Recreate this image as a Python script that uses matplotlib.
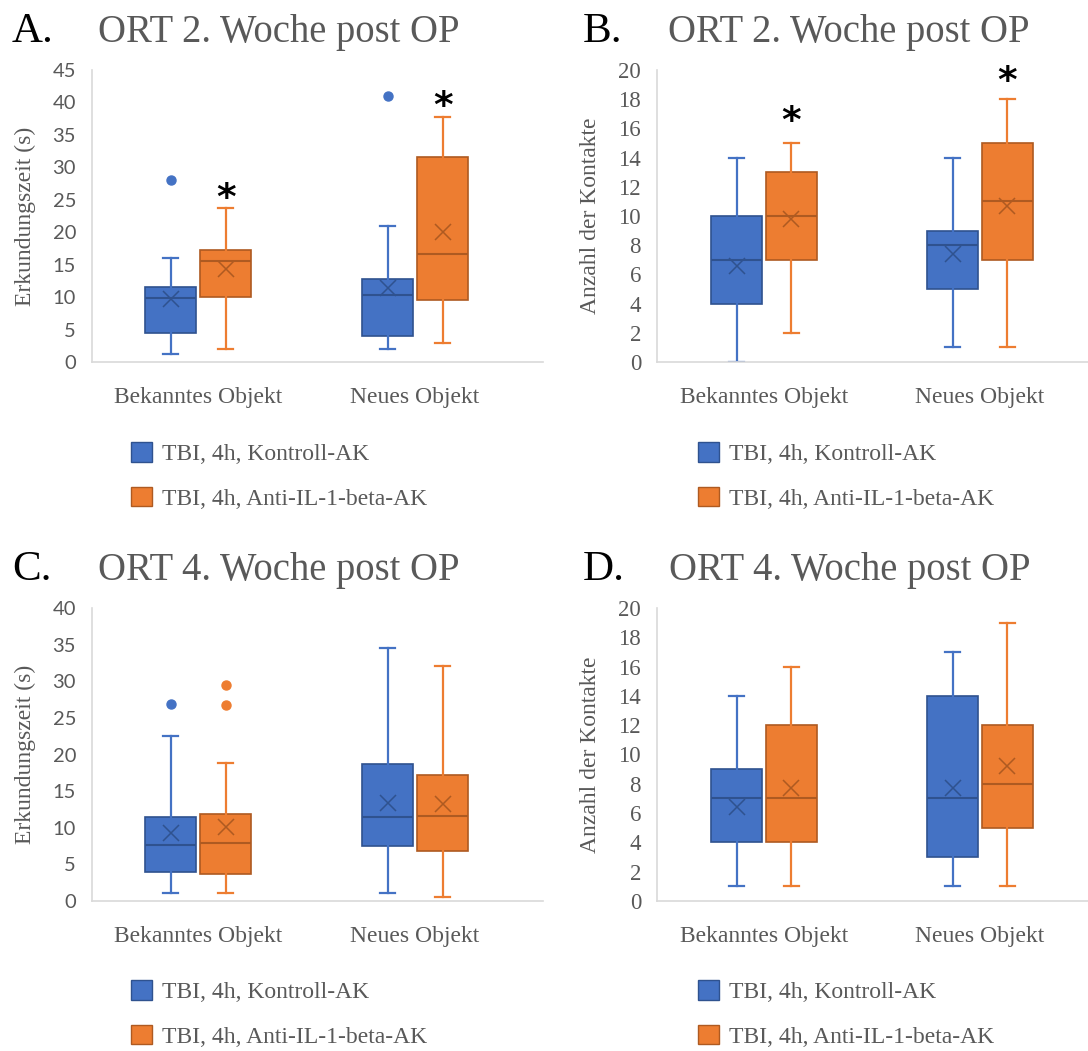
import matplotlib
matplotlib.use("Agg")
import matplotlib.pyplot as plt
from matplotlib.patches import Patch

# ---- data ----
categories = ["Bekanntes Objekt", "Neues Objekt"]
series = ["TBI, 4h, Kontroll-AK", "TBI, 4h, Anti-IL-1-beta-AK"]

# five-number summaries per category: [whisker low, q1, median, q3, whisker high]
a_ctrl = [[1.2, 4.4, 9.9, 11.6, 16.1], [2.0, 4.0, 10.4, 12.8, 21.0]]
a_ctrl_mean = [9.7, 11.4]
a_ctrl_out = [[28.0], [41.0]]
a_anti = [[2.0, 10.0, 15.6, 17.3, 23.8], [2.9, 9.6, 16.6, 31.6, 37.8]]
a_anti_mean = [14.3, 20.0]
a_anti_out = [[], []]
a_stars = [27.0, 41.2]

b_ctrl = [[0, 4, 7, 10, 14], [1, 5, 8, 9, 14]]
b_ctrl_mean = [6.6, 7.4]
b_ctrl_out = [[], []]
b_anti = [[2, 7, 10, 13, 15], [1, 7, 11, 15, 18]]
b_anti_mean = [9.8, 10.7]
b_anti_out = [[], []]
b_stars = [17.3, 20.0]

c_ctrl = [[1.1, 4.0, 7.7, 11.5, 22.5], [1.1, 7.5, 11.5, 18.7, 34.5]]
c_ctrl_mean = [9.3, 13.4]
c_ctrl_out = [[26.9], []]
c_anti = [[1.1, 3.7, 7.9, 11.9, 18.9], [0.5, 6.8, 11.6, 17.2, 32.1]]
c_anti_mean = [10.1, 13.2]
c_anti_out = [[29.5, 26.7], []]

d_ctrl = [[1, 4, 7, 9, 14], [1, 3, 7, 14, 17]]
d_ctrl_mean = [6.4, 7.7]
d_ctrl_out = [[], []]
d_anti = [[1, 4, 7, 12, 16], [1, 5, 8, 12, 19]]
d_anti_mean = [7.7, 9.2]
d_anti_out = [[], []]

BLUE, BLUE_D = "#4472C4", "#2F528F"
ORANGE, ORANGE_D = "#ED7D31", "#AE5A21"
GREY = "#595959"
SERIF = "Liberation Serif"

W, H = 1088, 1051
fig = plt.figure(figsize=(W / 100, H / 100), dpi=100)


def px_axes(left, right, bottom, top):
    return fig.add_axes([left / W, 1 - bottom / H, (right - left) / W, (bottom - top) / H])


def make_stats(summ, means, outs):
    st = []
    for s, m, o in zip(summ, means, outs):
        st.append(dict(whislo=s[0], q1=s[1], med=s[2], q3=s[3], whishi=s[4],
                       mean=m, fliers=o))
    return st


def draw_series(ax, stats, pos, col, dark):
    ax.bxp(stats, positions=pos, widths=0.235, patch_artist=True, showmeans=True,
           capwidths=0.07,
           boxprops=dict(facecolor=col, edgecolor=dark, linewidth=1.2),
           whiskerprops=dict(color=col, linewidth=1.6),
           capprops=dict(color=col, linewidth=1.6),
           medianprops=dict(color=dark, linewidth=1.5),
           meanprops=dict(marker="x", markeredgecolor=dark, markersize=12,
                          markeredgewidth=1.1),
           flierprops=dict(marker="o", markerfacecolor=col, markeredgecolor=col,
                           markersize=6.5))


def panel(ax, ctrl, cmean, cout, anti, amean, aout, ymax, step, ylabel,
          tickfont, ticksize, xlim, ylab_x, stars=None):
    x = [1, 2]
    off = 0.127
    draw_series(ax, make_stats(ctrl, cmean, cout), [p - off for p in x], BLUE, BLUE_D)
    draw_series(ax, make_stats(anti, amean, aout), [p + off for p in x], ORANGE, ORANGE_D)
    if stars:
        for p, s in zip(x, stars):
            ax.annotate("*", (p + off, s), xytext=(0, -0.6 * 27), textcoords="offset points",
                        ha="center", va="baseline", fontsize=27, fontweight="bold",
                        family="DejaVu Sans", color="black", annotation_clip=False)
    ax.set_xlim(*xlim)
    ax.set_ylim(0, ymax)
    ax.set_yticks(range(0, ymax + 1, step))
    ax.set_xticks(x)
    ax.set_xticklabels(categories, family=SERIF, fontsize=17, color=GREY)
    for t in ax.get_yticklabels():
        t.set_family(tickfont)
        t.set_fontsize(ticksize)
        t.set_color(GREY)
    ax.tick_params(axis="both", length=0)
    ax.tick_params(axis="x", pad=18)
    ax.tick_params(axis="y", pad=11.5)
    for sp in ["top", "right"]:
        ax.spines[sp].set_visible(False)
    for sp in ["left", "bottom"]:
        ax.spines[sp].set_color("#D9D9D9")
        ax.spines[sp].set_linewidth(1.2)
    ax.set_ylabel(ylabel, family=SERIF, fontsize=17, color=GREY)
    ax.yaxis.set_label_coords(ylab_x, 0.5)


axA = px_axes(92, 543, 362, 70)
axB = px_axes(657, 1088, 362, 70)
axC = px_axes(92, 543, 901, 608)
axD = px_axes(657, 1088, 901, 608)

panel(axA, a_ctrl, a_ctrl_mean, a_ctrl_out, a_anti, a_anti_mean, a_anti_out, 45, 5,
      "Erkundungszeit (s)", "Lato", 14.5, (0.51, 2.59), -0.125, a_stars)
panel(axB, b_ctrl, b_ctrl_mean, b_ctrl_out, b_anti, b_anti_mean, b_anti_out, 20, 2,
      "Anzahl der Kontakte", SERIF, 16.5, (0.505, 2.5), -0.13, b_stars)
panel(axC, c_ctrl, c_ctrl_mean, c_ctrl_out, c_anti, c_anti_mean, c_anti_out, 40, 5,
      "Erkundungszeit (s)", "Lato", 14.5, (0.51, 2.59), -0.125)
panel(axD, d_ctrl, d_ctrl_mean, d_ctrl_out, d_anti, d_anti_mean, d_anti_out, 20, 2,
      "Anzahl der Kontakte", SERIF, 16.5, (0.505, 2.5), -0.13)

# panel letters and titles
letters = ["A.", "B.", "C.", "D."]
titles = ["ORT 2. Woche post OP", "ORT 2. Woche post OP",
          "ORT 4. Woche post OP", "ORT 4. Woche post OP"]
letter_xy = [(12, 42), (583, 42), (12, 580), (583, 580)]
title_xy = [(98, 42), (668, 42), (98, 580), (669, 580)]
for l, t, (lx, ly), (tx, ty) in zip(letters, titles, letter_xy, title_xy):
    fig.text(lx / W, 1 - ly / H, l, family=SERIF, fontsize=31, color="black",
             ha="left", va="baseline")
    fig.text(tx / W, 1 - ty / H, t, family=SERIF, fontsize=27.8, color=GREY,
             ha="left", va="baseline")

# legends
handles = [Patch(facecolor=BLUE, edgecolor=BLUE_D), Patch(facecolor=ORANGE, edgecolor=ORANGE_D)]
for (lx, ly) in [(131, 442), (698, 442), (131, 980), (698, 980)]:
    fig.legend(handles, series, loc="upper left", bbox_to_anchor=(lx / W, 1 - ly / H),
               frameon=False, borderpad=0, borderaxespad=0, handlelength=0.9,
               handleheight=0.9, handletextpad=0.4, labelspacing=0.92,
               prop=dict(family=SERIF, size=17), labelcolor=GREY)

fig.savefig("out.png", dpi=100, facecolor="white")
